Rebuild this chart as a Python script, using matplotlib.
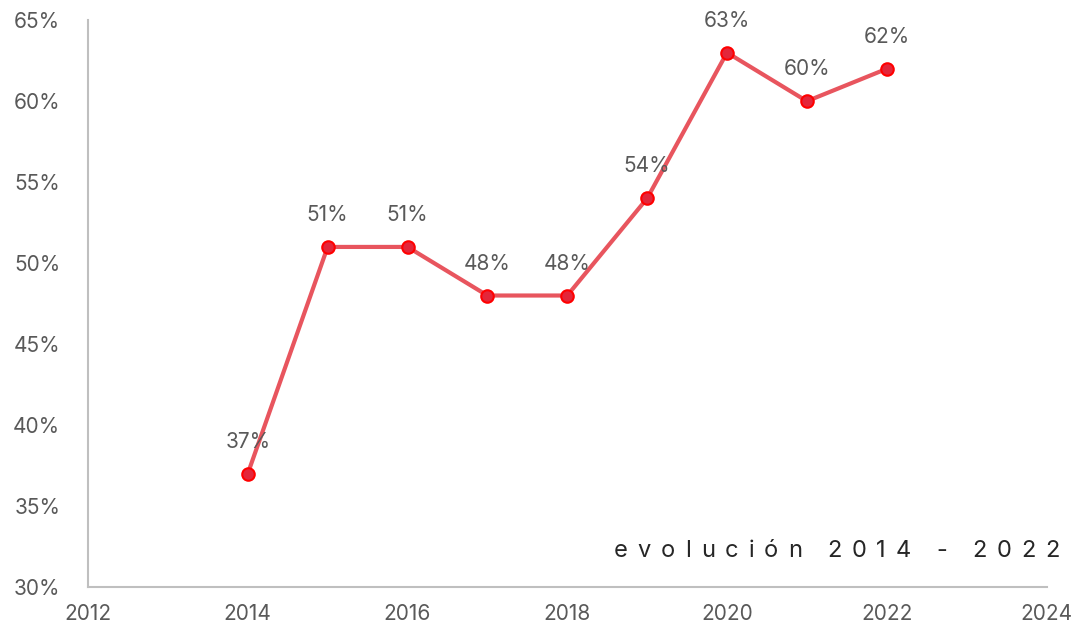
import matplotlib.pyplot as plt
import matplotlib.ticker as mtick

plt.rcParams['font.family'] = ['Inter', 'DejaVu Sans']

anios = [2014, 2015, 2016, 2017, 2018, 2019, 2020, 2021, 2022]
valores = [37, 51, 51, 48, 48, 54, 63, 60, 62]
titulo = 'evolución 2014 - 2022'

gris = '#595959'

fig = plt.figure(figsize=(10.8, 6.32), dpi=100)
ax = fig.add_axes([0.0815, 0.0712, 0.8875, 0.8968])

ax.plot(anios, valores, color='#E8555E', linewidth=3, zorder=2)
ax.plot(anios, valores, 'o', markersize=9, markerfacecolor='#E3263A',
        markeredgecolor='#FF0000', markeredgewidth=1.5, zorder=3)

for x, y in zip(anios, valores):
    ax.annotate(f'{y}%', (x, y), xytext=(0, 23), textcoords='offset points',
                ha='center', va='center', fontsize=15, color=gris)

ax.set_xlim(2012, 2024)
ax.set_ylim(30, 65)
ax.set_xticks(range(2012, 2025, 2))
ax.set_yticks(range(30, 66, 5))
ax.yaxis.set_major_formatter(mtick.FuncFormatter(lambda v, p: f'{v:.0f}%'))
ax.tick_params(length=0, labelsize=15, labelcolor=gris)
ax.tick_params(axis='y', pad=20)
ax.tick_params(axis='x', pad=12)

for s in ['top', 'right']:
    ax.spines[s].set_visible(False)
for s in ['left', 'bottom']:
    ax.spines[s].set_color('#BFBFBF')
    ax.spines[s].set_linewidth(1.5)

# texto con espaciado entre letras (a mano, letra por letra)
renderer = fig.canvas.get_renderer()
W = fig.bbox.width
letras = []
for c in titulo:
    t = fig.text(0, 0.128, c, ha='left', va='center', fontsize=17, color='#262626')
    ancho = t.get_window_extent(renderer).width if c != ' ' else 5
    letras.append((t, ancho))
espacio = 10
total = sum(a for _, a in letras) + espacio * (len(letras) - 1)
xpos = 1060 - total
for t, a in letras:
    t.set_x(xpos / W)
    xpos += a + espacio

plt.savefig('out.png')
